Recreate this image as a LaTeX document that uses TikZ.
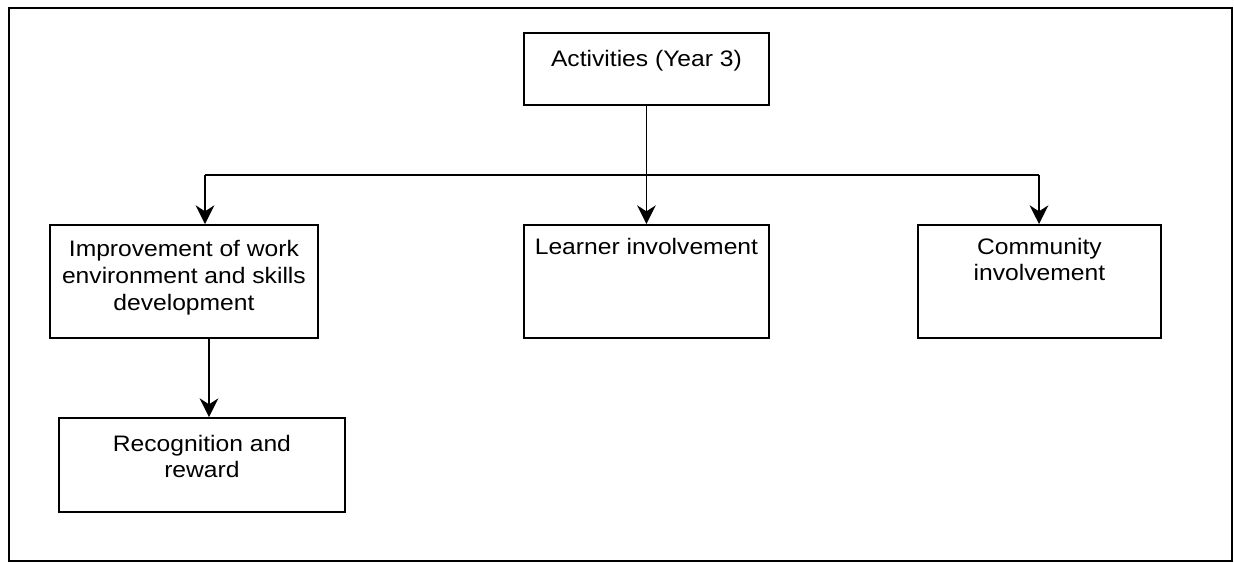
\documentclass[tikz,border=0pt]{standalone}
\usepackage{fontspec}
\setmainfont[FakeStretch=1.1]{Liberation Sans}
\usetikzlibrary{arrows.meta,calc}

% box whose text sits near its top edge: width, height, first baseline, text
\newcommand\topboxtext[4]{\parbox[c][#2][t]{#1}{\centering\rule{0pt}{#3}#4}}

\begin{document}
\begin{tikzpicture}[x=0.75pt,y=-0.75pt,
  box/.style={draw, line width=1.4pt, inner sep=0pt, anchor=north west,
    font=\fontsize{16.8pt}{20pt}\selectfont},
  arr/.style={line width=1.3pt, -{Stealth[length=14pt,width=14pt,inset=4.5pt]}},
  link/.style={line width=1.4pt}]
  \useasboundingbox (0,0) rectangle (1234,562);
  \draw[line width=1.8pt] (9,8) rectangle (1232,561);

  \node[box] (act) at (523,32) {\topboxtext{183.75pt}{54pt}{25pt}{Activities (Year 3)}};
  \node[box] (imp) at (49,224) {\topboxtext{201pt}{84.75pt}{24pt}{Improvement of work\\environment and skills\\development}};
  \node[box] (lea) at (523,224) {\topboxtext{183.75pt}{84.75pt}{22pt}{Learner involvement}};
  \node[box] (com) at (917,224) {\topboxtext{182.25pt}{84.75pt}{22pt}{Community\\involvement}};
  \node[box] (rec) at (58,417) {\topboxtext{214.5pt}{70.5pt}{25pt}{Recognition and\\reward}};

  \coordinate (busL) at (205,175);
  \coordinate (busR) at (1039,175);
  \coordinate (recin) at (209,337);

  \draw[link] (busL) -- (busR);
  \draw[arr] (act.south) -- (lea.north);
  \draw[arr] (busL) -- (busL |- imp.north);
  \draw[arr] (busR) -- (busR |- com.north);
  \draw[arr] (recin) -- (recin |- rec.north);
\end{tikzpicture}
\end{document}
